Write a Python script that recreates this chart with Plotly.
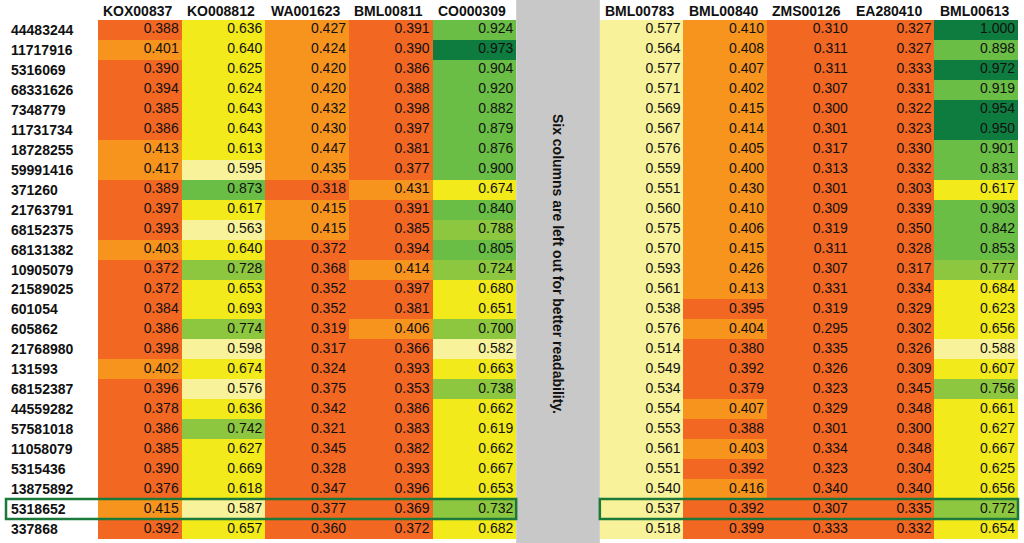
import numpy as np
import plotly.graph_objects as go

# row ids (top to bottom)
rows = ["44483244", "11717916", "5316069", "68331626", "7348779", "11731734",
        "18728255", "59991416", "371260", "21763791", "68152375", "68131382",
        "10905079", "21589025", "601054", "605862", "21768980", "131593",
        "68152387", "44559282", "57581018", "11058079", "5315436", "13875892",
        "5318652", "337868"]

left_cols = ["KOX00837", "KO008812", "WA001623", "BML00811", "CO000309"]
right_cols = ["BML00783", "BML00840", "ZMS00126", "EA280410", "BML00613"]

kox00837 = [0.388, 0.401, 0.390, 0.394, 0.385, 0.386, 0.413, 0.417, 0.389, 0.397, 0.393, 0.403, 0.372,
            0.372, 0.384, 0.386, 0.398, 0.402, 0.396, 0.378, 0.386, 0.385, 0.390, 0.376, 0.415, 0.392]
ko008812 = [0.636, 0.640, 0.625, 0.624, 0.643, 0.643, 0.613, 0.595, 0.873, 0.617, 0.563, 0.640, 0.728,
            0.653, 0.693, 0.774, 0.598, 0.674, 0.576, 0.636, 0.742, 0.627, 0.669, 0.618, 0.587, 0.657]
wa001623 = [0.427, 0.424, 0.420, 0.420, 0.432, 0.430, 0.447, 0.435, 0.318, 0.415, 0.415, 0.372, 0.368,
            0.352, 0.352, 0.319, 0.317, 0.324, 0.375, 0.342, 0.321, 0.345, 0.328, 0.347, 0.377, 0.360]
bml00811 = [0.391, 0.390, 0.386, 0.388, 0.398, 0.397, 0.381, 0.377, 0.431, 0.391, 0.385, 0.394, 0.414,
            0.397, 0.381, 0.406, 0.366, 0.393, 0.353, 0.386, 0.383, 0.382, 0.393, 0.396, 0.369, 0.372]
co000309 = [0.924, 0.973, 0.904, 0.920, 0.882, 0.879, 0.876, 0.900, 0.674, 0.840, 0.788, 0.805, 0.724,
            0.680, 0.651, 0.700, 0.582, 0.663, 0.738, 0.662, 0.619, 0.662, 0.667, 0.653, 0.732, 0.682]
bml00783 = [0.577, 0.564, 0.577, 0.571, 0.569, 0.567, 0.576, 0.559, 0.551, 0.560, 0.575, 0.570, 0.593,
            0.561, 0.538, 0.576, 0.514, 0.549, 0.534, 0.554, 0.553, 0.561, 0.551, 0.540, 0.537, 0.518]
bml00840 = [0.410, 0.408, 0.407, 0.402, 0.415, 0.414, 0.405, 0.400, 0.430, 0.410, 0.406, 0.415, 0.426,
            0.413, 0.395, 0.404, 0.380, 0.392, 0.379, 0.407, 0.388, 0.403, 0.392, 0.416, 0.392, 0.399]
zms00126 = [0.310, 0.311, 0.311, 0.307, 0.300, 0.301, 0.317, 0.313, 0.301, 0.309, 0.319, 0.311, 0.307,
            0.331, 0.319, 0.295, 0.335, 0.326, 0.323, 0.329, 0.301, 0.334, 0.323, 0.340, 0.307, 0.333]
ea280410 = [0.327, 0.327, 0.333, 0.331, 0.322, 0.323, 0.330, 0.332, 0.303, 0.339, 0.350, 0.328, 0.317,
            0.334, 0.329, 0.302, 0.326, 0.309, 0.345, 0.348, 0.300, 0.348, 0.304, 0.340, 0.335, 0.332]
bml00613 = [1.000, 0.898, 0.972, 0.919, 0.954, 0.950, 0.901, 0.831, 0.617, 0.903, 0.842, 0.853, 0.777,
            0.684, 0.623, 0.656, 0.588, 0.607, 0.756, 0.661, 0.627, 0.667, 0.625, 0.656, 0.772, 0.654]

highlight_row = "5318652"

# colour classes
bin_edges = [0.4, 0.5, 0.6, 0.7, 0.8, 0.95]
bin_colors = ["#F26722", "#F7941E", "#F8F29A", "#F2EA1A", "#8DC63F", "#6ABD45", "#0F7C3F"]

left_vals = [kox00837, ko008812, wa001623, bml00811, co000309]
right_vals = [bml00783, bml00840, zms00126, ea280410, bml00613]
all_vals = left_vals + [None] + right_vals  # gap column in the middle
ncol = len(all_vals)
nrow = len(rows)

z = np.full((nrow, ncol), np.nan)
for j, col in enumerate(all_vals):
    if col is not None:
        z[:, j] = np.digitize(col, bin_edges)

n = len(bin_colors)
cscale = []
for k, c in enumerate(bin_colors):
    cscale.append([k / n, c])
    cscale.append([(k + 1) / n, c])

fig = go.Figure()
fig.add_trace(go.Heatmap(
    z=z, x=list(range(ncol)), y=list(range(nrow)),
    colorscale=cscale, zmin=-0.5, zmax=n - 0.5,
    showscale=False, hoverinfo="skip"))

# right aligned cell values
tx, ty, tt = [], [], []
for j, col in enumerate(all_vals):
    if col is None:
        continue
    for i, v in enumerate(col):
        tx.append(j + 0.465)
        ty.append(i)
        tt.append("%.3f" % v)
fig.add_trace(go.Scatter(
    x=tx, y=ty, text=tt, mode="text", textposition="middle left",
    textfont=dict(family="Liberation Sans, Arial", size=14, color="#111111"),
    hoverinfo="skip", showlegend=False))

L, R, T, B = 98, 6, 20, 4
W, H = 1024, 543
pw = W - L - R

annotations = []
for i, r in enumerate(rows):
    annotations.append(dict(
        x=-(L - 9) / pw, xref="paper", y=i, yref="y", text="<b>%s</b>" % r,
        showarrow=False, xanchor="left", yanchor="middle",
        font=dict(family="Liberation Sans, Arial", size=14, color="#111111")))

headers = left_cols + [""] + right_cols
for j, h in enumerate(headers):
    if not h:
        continue
    annotations.append(dict(
        x=j - 0.46, xref="x", y=1, yref="paper", text="<b>%s</b>" % h,
        showarrow=False, xanchor="left", yanchor="bottom", yshift=-1,
        font=dict(family="Liberation Sans, Arial", size=14, color="#111111")))

gap = len(left_cols)
annotations.append(dict(
    x=gap, xref="x", y=0.53, yref="paper",
    text="<b>Six columns are left out for better readability.</b>",
    textangle=90, showarrow=False, xanchor="center", yanchor="middle",
    font=dict(family="Liberation Sans, Arial", size=14, color="#111111")))

hi = rows.index(highlight_row)
shapes = [
    dict(type="rect", xref="x", yref="paper", x0=gap - 0.5, x1=gap + 0.5,
         y0=-B / (H - T - B), y1=1 + T / (H - T - B),
         fillcolor="#C8C8C8", line=dict(width=0), layer="above"),
    dict(type="rect", xref="paper", yref="y", x0=-(L - 6) / pw, x1=gap / ncol,
         y0=hi - 0.5, y1=hi + 0.5, line=dict(color="#1B7A3A", width=2.5)),
    dict(type="rect", xref="paper", yref="y", x0=(gap + 1) / ncol, x1=1.0,
         y0=hi - 0.5, y1=hi + 0.5, line=dict(color="#1B7A3A", width=2.5)),
]

fig.update_layout(
    width=W, height=H,
    margin=dict(l=L, r=R, t=T, b=B),
    paper_bgcolor="white", plot_bgcolor="white",
    xaxis=dict(range=[-0.5, ncol - 0.5], showgrid=False, zeroline=False,
               showticklabels=False, fixedrange=True),
    yaxis=dict(range=[nrow - 0.5, -0.5], showgrid=False, zeroline=False,
               showticklabels=False, fixedrange=True),
    annotations=annotations, shapes=shapes, showlegend=False)

# page margin off so the figure fills the window
fig.write_html("out.html", config={"displayModeBar": False},
               post_script="document.body.style.margin='0';document.body.style.overflow='hidden';")
